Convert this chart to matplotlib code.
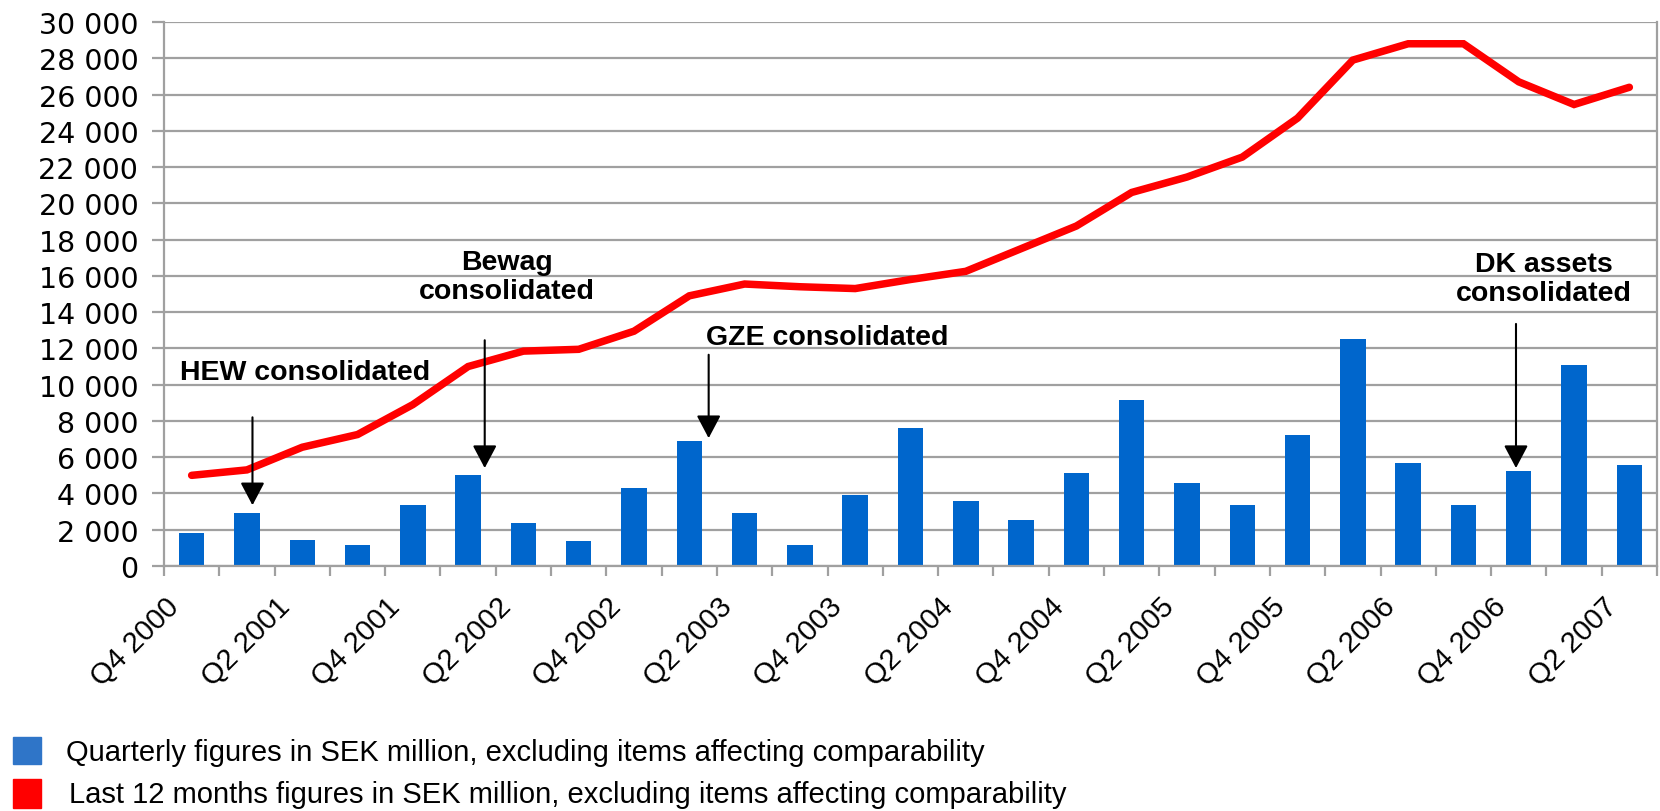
import matplotlib
matplotlib.use("Agg")
import matplotlib.pyplot as plt
import matplotlib.transforms as mtransforms
from matplotlib.patches import Rectangle
import numpy as np

plt.rcParams["font.family"] = ["Liberation Sans", "DejaVu Sans"]

quarters = ["Q4 2000",
            "Q1 2001", "Q2 2001", "Q3 2001", "Q4 2001",
            "Q1 2002", "Q2 2002", "Q3 2002", "Q4 2002",
            "Q1 2003", "Q2 2003", "Q3 2003", "Q4 2003",
            "Q1 2004", "Q2 2004", "Q3 2004", "Q4 2004",
            "Q1 2005", "Q2 2005", "Q3 2005", "Q4 2005",
            "Q1 2006", "Q2 2006", "Q3 2006", "Q4 2006",
            "Q1 2007", "Q2 2007"]

quarterly = [1800,
             2900, 1450, 1150, 3350,
             5000, 2350, 1400, 4300,
             6900, 2900, 1150, 3900,
             7600, 3600, 2550, 5150,
             9150, 4600, 3350, 7200,
             12500, 5700, 3350, 5250,
             11100, 5550]

last12 = [5000,
          5300, 6550, 7250, 8900,
          11000, 11850, 11950, 12950,
          14900, 15550, 15400, 15300,
          15800, 16250, 17500, 18750,
          20600, 21450, 22550, 24700,
          27900, 28800, 28800, 26700,
          25450, 26400]

# events: label, quarter index of the arrow, text position (x, y), arrow top, arrow tip
events = [("HEW consolidated", 1.1, 2.05, 10700, 8200, 3350),
          ("Bewag\nconsolidated", 5.3, 5.7, 15950, 12450, 5400),
          ("GZE consolidated", 9.35, 11.5, 12650, 11650, 7050),
          ("DK assets\nconsolidated", 23.95, 24.45, 15850, 13350, 5400)]

grid_col = "#a0a0a0"

fig = plt.figure(figsize=(16.6, 8.12), dpi=100)
ax = fig.add_axes([164 / 1660, 1 - 567 / 812, 1493 / 1660, 544 / 812])

x = np.arange(len(quarters))
ax.bar(x, quarterly, width=0.46, color="#0066cc", zorder=2)
ax.plot(x, last12, color="#ff0000", lw=5.4, solid_capstyle="round",
        solid_joinstyle="miter", zorder=3)

ax.set_xlim(-0.5, len(quarters) - 0.5)
ax.set_ylim(0, 30000)
ax.set_yticks(np.arange(0, 30001, 2000))
ax.set_yticklabels([f"{v:,}".replace(",", " ") for v in range(0, 30001, 2000)],
                   family="DejaVu Sans", fontsize=20.5)
ax.yaxis.grid(True, color=grid_col, lw=1.6, zorder=0)
ax.tick_params(axis="y", length=8.5, width=1.6, color=grid_col, pad=10)

# category boundaries get the tick marks, labels every second quarter
ax.set_xticks(np.arange(-0.5, len(quarters)), minor=True)
ax.tick_params(axis="x", which="minor", length=7, width=1.6, color=grid_col)
ax.set_xticks(x[::2])
ax.set_xticklabels(quarters[::2], rotation=45, ha="right", va="center",
                   rotation_mode="anchor", fontsize=21)
ax.tick_params(axis="x", which="major", length=0, pad=0)
off = mtransforms.ScaledTranslation(-17 / 100, -36 / 100, fig.dpi_scale_trans)
for lab in ax.get_xticklabels():
    lab.set_transform(lab.get_transform() + off)

for side in ["left", "bottom", "right"]:
    ax.spines[side].set_color(grid_col)
    ax.spines[side].set_linewidth(1.6)
ax.spines["top"].set_visible(False)

for label, xa, xt, yt, y0, y1 in events:
    ax.text(xt, yt, label, ha="center", va="center", fontsize=20.5,
            fontweight="bold", linespacing=1.15, zorder=4)
    ax.annotate("", xy=(xa, y1), xytext=(xa, y0),
                arrowprops=dict(arrowstyle="-|>,head_length=0.7,head_width=0.37",
                                mutation_scale=20, color="black", lw=1.5,
                                shrinkA=0, shrinkB=0),
                zorder=4)

# legend drawn by hand below the axis labels
fig.patches.append(Rectangle((13 / 1660, 1 - 765 / 812), 28 / 1660, 27 / 812,
                             transform=fig.transFigure, color="#2f75c8"))
fig.patches.append(Rectangle((13 / 1660, 1 - 809 / 812), 28 / 1660, 29 / 812,
                             transform=fig.transFigure, color="#ff0000"))
fig.text(66 / 1660, 1 - 753 / 812,
         "Quarterly figures in SEK million, excluding items affecting comparability",
         fontsize=21, va="center")
fig.text(69 / 1660, 1 - 795 / 812,
         "Last 12 months figures in SEK million, excluding items affecting comparability",
         fontsize=21, va="center")

fig.savefig("out.png", dpi=100)
